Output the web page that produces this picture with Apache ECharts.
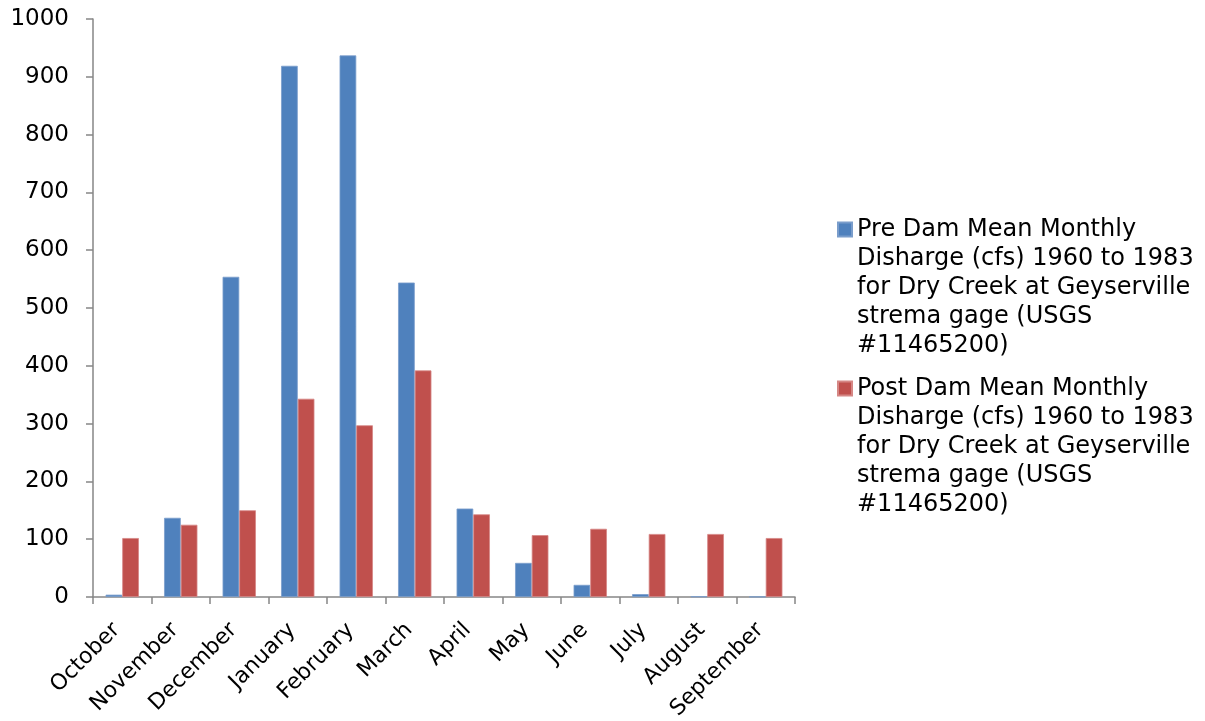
<!DOCTYPE html>
<html>
<head>
<meta charset="utf-8">
<title>Dry Creek mean monthly discharge</title>
<script src="https://cdn.jsdelivr.net/npm/echarts@6/dist/echarts.min.js"></script>
<style>
  html, body { margin: 0; padding: 0; background: #ffffff; }
  #chart { width: 1205px; height: 721px; }
</style>
</head>
<body>
<div id="chart"></div>
<script>
// Water-year months, October through September
var months = ['October', 'November', 'December', 'January', 'February', 'March',
              'April', 'May', 'June', 'July', 'August', 'September'];

// Mean monthly discharge (cfs) before and after the dam
var preDam  = [4, 137, 554, 919, 937, 544, 153, 59, 21, 5, 1, 0.5];
var postDam = [102, 125, 150, 343, 297, 392, 143, 107, 118, 109, 109, 102];

// Series names and how they wrap in the legend
var preName  = 'Pre Dam Mean Monthly Disharge (cfs) 1960 to 1983 for Dry Creek at Geyserville strema gage (USGS #11465200)';
var postName = 'Post Dam Mean Monthly Disharge (cfs) 1960 to 1983 for Dry Creek at Geyserville strema gage (USGS #11465200)';
var preLines  = ['Pre Dam Mean Monthly', 'Disharge (cfs) 1960 to 1983', 'for Dry Creek at Geyserville', 'strema gage (USGS', '#11465200)'];
var postLines = ['Post Dam Mean Monthly', 'Disharge (cfs) 1960 to 1983', 'for Dry Creek at Geyserville', 'strema gage (USGS', '#11465200)'];

// Value axis range
var yMin = 0, yMax = 1000, yStep = 100;

var FONT = 'DejaVu Sans, Verdana, sans-serif';
var FS_LEGEND = 24;
var FS_Y = 23;
var FS_X = 22;
var LH = 29;
var AXIS_GREY = '#868686';

var chart = echarts.init(document.getElementById('chart'));

// Legend text is centred on its square, so blank lines are stacked above the
// wrapped name to bring its first line level with the square.
function legendBlock(firstLineY, name, lines) {
  var blanks = lines.length - 1;
  var totalLines = lines.length + blanks;
  var text = new Array(blanks + 1).join('\n') + lines.join('\n');
  return {
    data: [name],
    orient: 'vertical',
    left: 837,
    top: firstLineY - (totalLines * LH) / 2,
    padding: 0,
    icon: 'rect',
    itemWidth: 14,
    itemHeight: 14,
    itemGap: 0,
    selectedMode: false,
    formatter: function () { return text; },
    textStyle: {
      fontFamily: FONT,
      fontSize: FS_LEGEND,
      lineHeight: LH,
      color: '#000000'
    }
  };
}

chart.setOption({
  animation: false,
  backgroundColor: '#ffffff',
  textStyle: { fontFamily: FONT },
  grid: {
    left: 93, right: 410, top: 19, bottom: 124,
    containLabel: false,
    outerBoundsMode: 'none'
  },
  legend: [
    legendBlock(229.5, preName, preLines),
    legendBlock(388.5, postName, postLines)
  ],
  xAxis: {
    type: 'category',
    data: months,
    boundaryGap: true,
    axisLine: { lineStyle: { color: AXIS_GREY, width: 1.5 } },
    axisTick: { show: true, length: 7, inside: false, lineStyle: { color: AXIS_GREY, width: 1.5 } },
    axisLabel: {
      rotate: 45,
      interval: 0,
      margin: 24,
      padding: [0, 8, 0, 0],
      fontFamily: FONT,
      fontSize: FS_X,
      color: '#000000'
    },
    splitLine: { show: false }
  },
  yAxis: {
    type: 'value',
    min: yMin,
    max: yMax,
    interval: yStep,
    axisLine: { show: true, lineStyle: { color: AXIS_GREY, width: 1.5 } },
    axisTick: { show: true, length: 7, lineStyle: { color: AXIS_GREY, width: 1.5 } },
    axisLabel: {
      margin: 24,
      fontFamily: FONT,
      fontSize: FS_Y,
      color: '#000000',
      formatter: function (v) { return String(v); }
    },
    splitLine: { show: false }
  },
  series: [
    {
      name: preName,
      type: 'bar',
      data: preDam,
      barGap: '0%',
      barCategoryGap: '43%',
      itemStyle: { color: '#4F81BD', borderColor: '#7A9DCB', borderWidth: 0.8 }
    },
    {
      name: postName,
      type: 'bar',
      data: postDam,
      barGap: '0%',
      barCategoryGap: '43%',
      itemStyle: { color: '#C0504D', borderColor: '#D58785', borderWidth: 0.8 }
    }
  ]
});
</script>
</body>
</html>
